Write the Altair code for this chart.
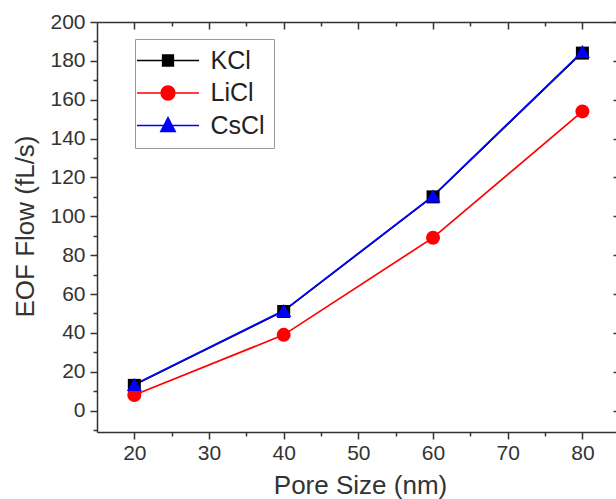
import altair as alt
import pandas as pd

FONT = "Liberation Sans"

# ---- data ----
pore_size = [20, 40, 60, 80]
kcl_flow = [13, 51, 110, 184]
licl_flow = [8, 39, 89, 154]
cscl_flow = [13.5, 51.5, 110.5, 184.8]

series_names = ["KCl", "LiCl", "CsCl"]
series_colors = ["#000000", "#ff0000", "#0000ff"]
series_shapes = ["square", "circle", "triangle-up"]
series_sizes = [169, 196, 225]
series_line_widths = [1.0, 1.7, 1.7]

x_major = [20, 30, 40, 50, 60, 70, 80]
x_minor = [25, 35, 45, 55, 65, 75]
y_major = [0, 20, 40, 60, 80, 100, 120, 140, 160, 180, 200]
y_minor = [-10, 10, 30, 50, 70, 90, 110, 130, 150, 170, 190]

# legend symbols: line through marker (units of 6 px)
legend_paths = [
    "M-5.17,0L5.17,0M-0.9,-0.9L0.9,-0.9L0.9,0.9L-0.9,0.9Z",
    "M-5.17,0L5.17,0M-1.15,0C-1.15,-0.635,-0.635,-1.15,0,-1.15C0.635,-1.15,1.15,-0.635,1.15,0"
    "C1.15,0.635,0.635,1.15,0,1.15C-0.635,1.15,-1.15,0.635,-1.15,0Z",
    "M-5.17,0L5.17,0M0,-1.3L1.2,1.0L-1.2,1.0Z",
]

rows = []
for name, vals in zip(series_names, [kcl_flow, licl_flow, cscl_flow]):
    for x, v in zip(pore_size, vals):
        rows.append({"pore": x, "flow": v, "salt": name})
df = pd.DataFrame(rows)

x_scale = alt.Scale(domain=[15, 84.5], nice=False, zero=False)
y_scale = alt.Scale(domain=[-11, 200], nice=False, zero=False)


def ax(**kw):
    base = dict(domain=False, grid=False, labels=False, title=None, ticks=True)
    base.update(kw)
    return alt.Axis(**base)


base = alt.Chart(df)


def line_layer(i, xaxis=None, yaxis=None):
    return base.transform_filter(alt.datum.salt == series_names[i]).mark_line(
        strokeWidth=series_line_widths[i], color=series_colors[i]
    ).encode(
        x=alt.X("pore:Q", scale=x_scale, axis=xaxis),
        y=alt.Y("flow:Q", scale=y_scale, axis=yaxis),
    )


def marker_layer(i, xaxis=None, yaxis=None):
    return base.transform_filter(alt.datum.salt == series_names[i]).mark_point(
        filled=True, opacity=1, shape=series_shapes[i], size=series_sizes[i],
        color=series_colors[i],
    ).encode(
        x=alt.X("pore:Q", scale=x_scale, axis=xaxis),
        y=alt.Y("flow:Q", scale=y_scale, axis=yaxis),
    )


line_k = line_layer(
    0,
    ax(orient="bottom", values=x_major, tickSize=7, labels=True, domain=True,
       labelPadding=3, title="Pore Size (nm)", titleX=263, titleY=61,
       titleAlign="center", titleBaseline="alphabetic"),
    ax(orient="left", values=y_major, tickSize=7, labels=True, domain=True,
       labelPadding=5, title="EOF Flow (fL/s)", titleX=-64, titleY=204,
       titleAngle=270, titleAlign="center", titleBaseline="alphabetic"),
)
line_l = line_layer(1, ax(orient="top", ticks=False, domain=True))
line_c = line_layer(2)

pts_k = marker_layer(0, ax(orient="bottom", values=x_minor, tickSize=4),
                     ax(orient="left", values=y_minor, tickSize=4))
pts_l = marker_layer(1)
pts_c = marker_layer(2)

leg = alt.Legend(
    orient="none", legendX=38, legendY=17, title=None, padding=9,
    strokeColor="#999", fillColor="white",
    labelFont=FONT, labelFontSize=25, labelColor="#222",
    symbolSize=144, symbolStrokeWidth=1.5, symbolOffset=11.5, labelOffset=30,
    rowPadding=6.5,
)

# legend carrier (no drawn data) + top major / right major inward ticks
legend_layer = base.transform_filter("datum.flow > 100000").mark_point(filled=True, opacity=1).encode(
    x=alt.X("pore:Q", scale=x_scale,
            axis=ax(orient="top", values=x_major, tickSize=7, offset=-7)),
    y=alt.Y("flow:Q", scale=y_scale,
            axis=ax(orient="right", values=y_major, tickSize=3, offset=-3)),
    fill=alt.Fill("salt:N", scale=alt.Scale(domain=series_names, range=series_colors), legend=leg),
    stroke=alt.Stroke("salt:N", scale=alt.Scale(domain=series_names, range=series_colors), legend=leg),
    shape=alt.Shape("salt:N", scale=alt.Scale(domain=series_names, range=legend_paths), legend=leg),
)

# top minor inward ticks
minor_layer = base.transform_filter("datum.flow > 100000").mark_point(opacity=1).encode(
    x=alt.X("pore:Q", scale=x_scale,
            axis=ax(orient="top", values=x_minor, tickSize=4, offset=-4)),
    y=alt.Y("flow:Q", scale=y_scale, axis=None),
)

chart = (
    alt.layer(line_k, line_l, line_c, pts_k, pts_l, pts_c, legend_layer, minor_layer)
    .resolve_axis(x="independent", y="independent")
    .properties(
        width=519, height=410,
        padding={"left": 97, "top": 22, "right": 0, "bottom": 67},
        autosize=alt.AutoSizeParams(type="none"),
    )
    .configure_view(strokeWidth=0)
    .configure_axis(
        labelFont=FONT, titleFont=FONT, labelFontSize=21, titleFontSize=26,
        labelColor="#333", titleColor="#333", tickColor="#333", tickWidth=1.5,
        domainColor="#333", domainWidth=1.5, titleFontWeight="normal",
    )
)

chart.save("out.html", embed_options={"renderer": "svg", "actions": False})
